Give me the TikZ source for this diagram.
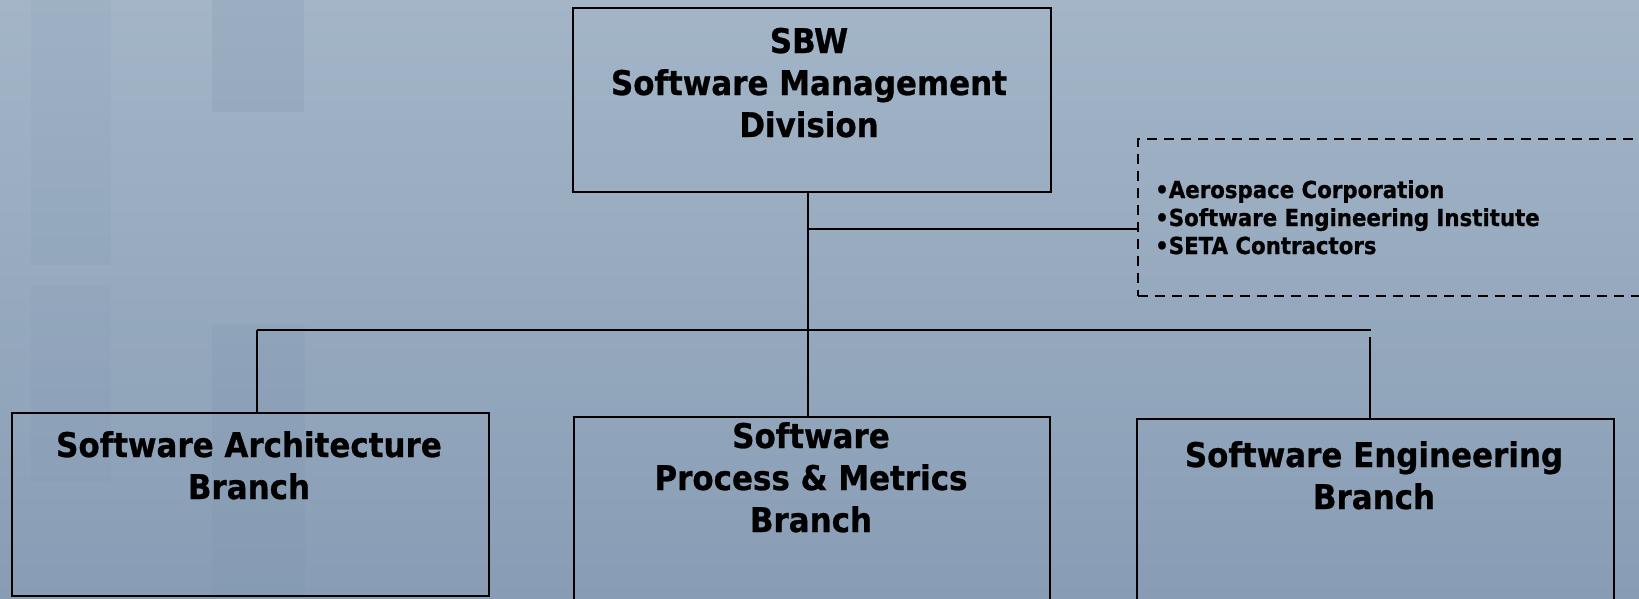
\documentclass[tikz,border=0pt]{standalone}
\usepackage{fontspec}
\setmainfont{DejaVu Sans}[FakeStretch=0.91,BoldFeatures={FakeBold=0.8}]
\begin{document}
\begin{tikzpicture}[x=1pt,y=-1pt,
  box/.style={draw=black,line width=2.2pt,inner sep=0pt,anchor=north west},
  extbox/.style={draw=black,line width=1.6pt,dash pattern=on 10pt off 7pt,inner sep=0pt,anchor=north west},
  wire/.style={draw=black,line width=2.2pt},
  title/.style={anchor=base,inner sep=0pt,font=\fontsize{34}{42}\selectfont\bfseries},
  notes/.style={anchor=base west,inner sep=0pt,align=left,font=\fontsize{23.4}{28}\selectfont\bfseries}]
  \definecolor{bgtop}{HTML}{A3B5C7}
  \definecolor{bgmid}{HTML}{A0B3C6}
  \definecolor{bgbot}{HTML}{889DB5}
  \definecolor{stripe}{HTML}{7E95AE}
  \useasboundingbox (0,0) rectangle (1639,598);
  \clip (0,0) rectangle (1639,598);
  % backdrop with faint vertical bands
  \shade[top color=bgtop,middle color=bgmid,bottom color=bgbot] (0,0) rectangle (1639,598);
  \fill[stripe,opacity=0.12] (31,0) rectangle (111,265);
  \fill[stripe,opacity=0.12] (31,285) rectangle (111,482);
  \fill[stripe,opacity=0.22] (212,0) rectangle (304,112);
  \fill[stripe,opacity=0.22] (212,325) rectangle (305,598);

  % boxes
  \node[box,minimum width=478pt,minimum height=184pt] (top) at (572,7) {};
  \node[box,minimum width=477pt,minimum height=183pt] (left) at (11,412) {};
  \node[box,minimum width=476pt,minimum height=190pt] (mid) at (573,416) {};
  \node[box,minimum width=477pt,minimum height=190pt] (right) at (1136,418) {};
  \node[extbox,minimum width=560pt,minimum height=157pt] (ext) at (1137,138) {};

  % box texts
  \node[title] (toptext) at (809,53) {\begin{tabular}[t]{@{}c@{}}SBW\\Software Management\\Division\end{tabular}};
  \node[title] (lefttext) at (249,457) {\begin{tabular}[t]{@{}c@{}}Software Architecture\\Branch\end{tabular}};
  \node[title] (midtext) at (811,448) {\begin{tabular}[t]{@{}c@{}}Software\\Process \& Metrics\\Branch\end{tabular}};
  \node[title] (righttext) at (1374,467) {\begin{tabular}[t]{@{}c@{}}Software Engineering\\Branch\end{tabular}};
  \node[notes] (exttext) at (1155,198) {\begin{tabular}[t]{@{}l@{}}•Aerospace Corporation\\•Software Engineering Institute\\•SETA Contractors\end{tabular}};

  % connectors
  \coordinate (tap) at (808,229);
  \coordinate (busL) at (257,330);
  \coordinate (busR) at (1371,330);
  \coordinate (dropR) at (1370,337);
  \draw[wire] (top.south -| tap) -- (mid.north -| tap);
  \draw[wire] (tap) -- (ext.west |- tap);
  \draw[wire] (busL) -- (busR);
  \draw[wire] (busL) -- (busL |- left.north);
  \draw[wire] (dropR) -- (dropR |- right.north);
\end{tikzpicture}
\end{document}
